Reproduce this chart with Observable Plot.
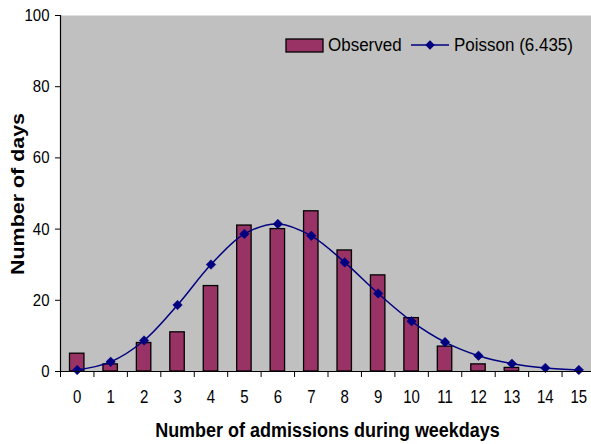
<!DOCTYPE html>
<html>
<head>
<meta charset="utf-8">
<script src="https://cdn.jsdelivr.net/npm/d3@7"></script>
<script src="https://cdn.jsdelivr.net/npm/@observablehq/plot@0.6"></script>
<style>
  html, body { margin: 0; padding: 0; background: #ffffff; }
  #chart { width: 591px; height: 444px; overflow: hidden; }
</style>
</head>
<body>
<div id="chart"></div>
<script>
// Number of admissions during weekdays (categories)
const categories = [0, 1, 2, 3, 4, 5, 6, 7, 8, 9, 10, 11, 12, 13, 14, 15];
// Observed number of days
const observed = [5, 2, 8, 11, 24, 41, 40, 45, 34, 27, 15, 7, 2, 1, 0, 0];
// Poisson (6.435) expected number of days
const poisson = [0.42, 2.71, 8.70, 18.67, 30.03, 38.65, 41.45, 38.11, 30.65, 21.92, 14.10, 8.25, 4.42, 2.19, 1.01, 0.43];
const yTicks = [0, 20, 40, 60, 80, 100];
const seriesNames = ["Observed", "Poisson (6.435)"];
const xTitle = "Number of admissions during weekdays";
const yTitle = "Number of days";

const data = categories.map((k, i) => ({k, obs: observed[i], pois: poisson[i]}));
const boundaries = categories.map(k => k - 0.5).concat([categories[categories.length - 1] + 0.5]);

const barColor = "#993366";
const lineColor = "#000080";
const font = "'Liberation Sans', Arial, sans-serif";

const chart = Plot.plot({
  width: 591,
  height: 444,
  marginLeft: 60,
  marginRight: 0,
  marginTop: 15,
  marginBottom: 73,
  style: {fontFamily: font, fontSize: "15px", color: "black", background: "white", overflow: "hidden"},
  x: {type: "linear", domain: [-0.5, 15.38]},
  y: {domain: [0, 100]},
  marks: [
    Plot.frame({fill: "#C0C0C0", stroke: null}),
    Plot.rectY(data.filter(d => d.obs > 0), {
      x1: d => d.k - 0.5, x2: d => d.k + 0.5, y: "obs",
      insetLeft: 9.5, insetRight: 9.5,
      fill: barColor, stroke: "black", strokeWidth: 1.3
    }),
    Plot.line(data, {x: "k", y: "pois", stroke: lineColor, strokeWidth: 1.5, curve: "catmull-rom"}),
    Plot.dot(data, {x: "k", y: "pois", symbol: "diamond2", r: 4.3, fill: lineColor, stroke: lineColor, strokeWidth: 0.5}),
    Plot.ruleY([0], {stroke: "black", strokeWidth: 1.2}),
    Plot.ruleX([-0.5], {stroke: "black", strokeWidth: 1.2}),
    Plot.axisY({ticks: yTicks, tickSize: 5, tickPadding: 6, label: null, fontSize: 15, tickFormat: d => String(d)}),
    Plot.axisX({ticks: categories, tickSize: 0, tickPadding: 19, label: null, fontSize: 15, tickFormat: d => String(d)}),
    Plot.axisX({ticks: boundaries.filter(b => b <= 15.38), tickSize: 6, tickFormat: () => "", label: null})
  ]
});

document.getElementById("chart").appendChild(chart);

const svg = d3.select(chart);

// Vertical stretch of tick labels, as in the reference rendering
svg.selectAll('g[aria-label="y-axis tick label"] text')
  .each(function() {
    const t = this.getAttribute("transform") || "";
    this.setAttribute("transform", t + " scale(1,1.15)");
  });
svg.selectAll('g[aria-label="x-axis tick label"] text')
  .each(function() {
    const t = this.getAttribute("transform") || "";
    this.setAttribute("transform", t + " scale(1,1.2)");
  });

// Axis titles
svg.append("text")
  .attr("transform", "translate(327.5,437) scale(1,1.15)")
  .attr("text-anchor", "middle")
  .attr("font-family", font).attr("font-weight", "bold").attr("font-size", 18)
  .attr("fill", "black")
  .text(xTitle);

svg.append("text")
  .attr("transform", "translate(24,194) rotate(-90)")
  .attr("text-anchor", "middle")
  .attr("font-family", font).attr("font-weight", "bold").attr("font-size", 18)
  .attr("textLength", 162).attr("lengthAdjust", "spacingAndGlyphs")
  .attr("fill", "black")
  .text(yTitle);

// Legend
const lg = svg.append("g").attr("font-family", font).attr("font-size", 17)
  .attr("fill", "black").attr("text-anchor", "start");
lg.append("rect").attr("x", 286).attr("y", 39).attr("width", 37).attr("height", 13)
  .attr("fill", barColor).attr("stroke", "black").attr("stroke-width", 1.3);
lg.append("text").attr("transform", "translate(328,51) scale(1,1.12)").text(seriesNames[0]);
lg.append("line").attr("x1", 411).attr("x2", 449).attr("y1", 45).attr("y2", 45)
  .attr("stroke", lineColor).attr("stroke-width", 1.5);
lg.append("path").attr("d", d3.symbol(d3.symbolDiamond2, 4.3 * 4.3 * Math.PI)())
  .attr("transform", "translate(430,45)").attr("fill", lineColor);
lg.append("text").attr("transform", "translate(454,51) scale(1,1.12)").text(seriesNames[1]);
</script>
</body>
</html>
